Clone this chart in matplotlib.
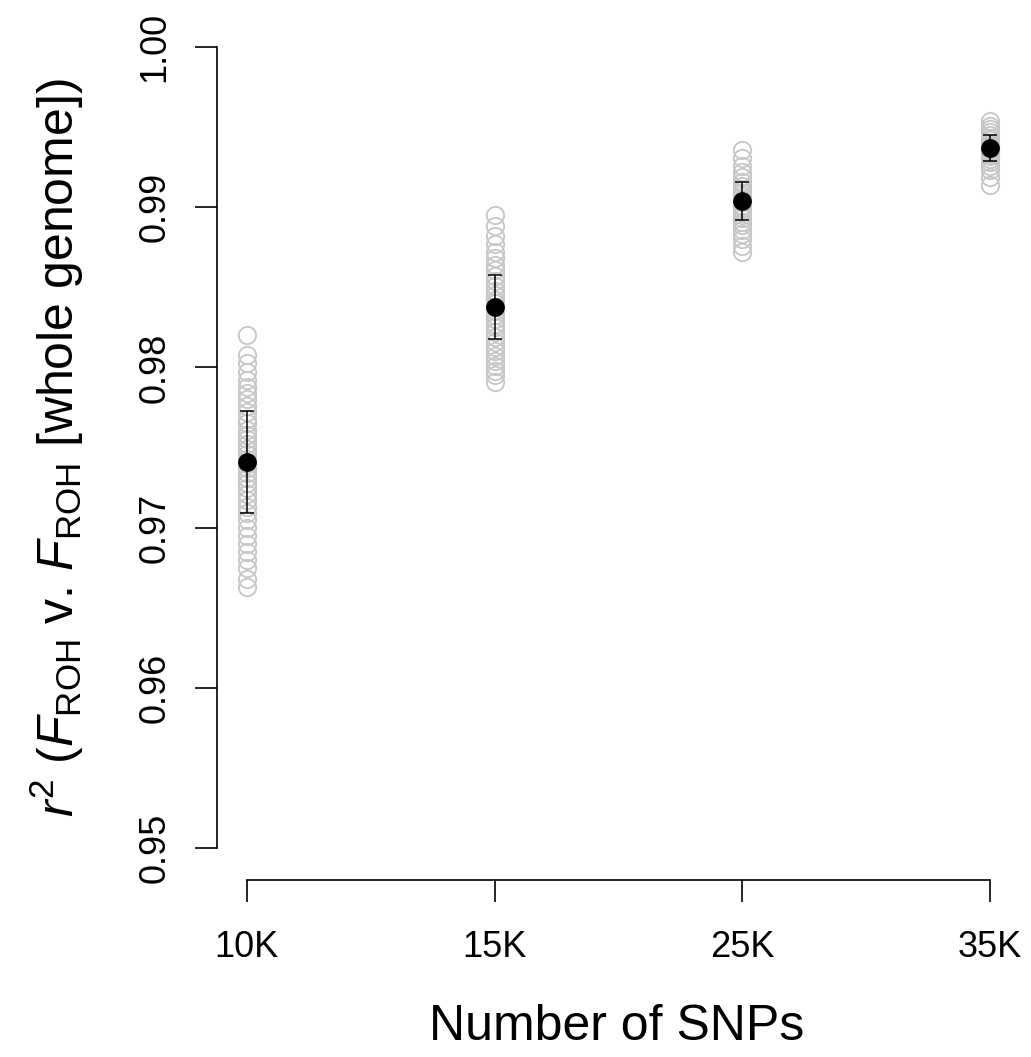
import matplotlib
matplotlib.use("Agg")
import matplotlib.pyplot as plt

plt.rcParams['font.family'] = ['Liberation Sans', 'DejaVu Sans']
plt.rcParams['mathtext.fontset'] = 'custom'
plt.rcParams['mathtext.rm'] = 'Liberation Sans'
plt.rcParams['mathtext.it'] = 'Liberation Sans:italic'

# SNP panel sizes
snp_labels = ["10K", "15K", "25K", "35K"]

# r^2 of each replicate subsample against the whole genome
r2_10k = [0.9820, 0.9808, 0.9803, 0.9797, 0.9792, 0.9788, 0.9784, 0.9780, 0.9776,
          0.9772, 0.9768, 0.9765, 0.9761, 0.9758, 0.9755, 0.9752, 0.9749, 0.9746,
          0.9743, 0.9740, 0.9737, 0.9734, 0.9731, 0.9728, 0.9725, 0.9721, 0.9717,
          0.9713, 0.9709, 0.9705, 0.9700, 0.9695, 0.9690, 0.9685, 0.9680, 0.9675,
          0.9668, 0.9663]
r2_15k = [0.9895, 0.9888, 0.9882, 0.9877, 0.9872, 0.9868, 0.9864, 0.9861, 0.9857,
          0.9854, 0.9851, 0.9848, 0.9845, 0.9842, 0.9840, 0.9838, 0.9835, 0.9833,
          0.9830, 0.9827, 0.9825, 0.9822, 0.9819, 0.9816, 0.9813, 0.9810, 0.9807,
          0.9804, 0.9801, 0.9798, 0.9795, 0.9791]
r2_25k = [0.9936, 0.9931, 0.9926, 0.9922, 0.9919, 0.9916, 0.9913, 0.9911, 0.9909,
          0.9907, 0.9905, 0.9903, 0.9901, 0.9899, 0.9897, 0.9895, 0.9893, 0.9891,
          0.9889, 0.9886, 0.9883, 0.9880, 0.9876, 0.9872]
r2_35k = [0.9954, 0.9951, 0.9949, 0.9947, 0.9945, 0.9943, 0.9942, 0.9940, 0.9939,
          0.9938, 0.9937, 0.9936, 0.9935, 0.9934, 0.9933, 0.9932, 0.9930, 0.9928,
          0.9926, 0.9923, 0.9919, 0.9914]

# Mean and standard deviation per panel size
r2_mean = [0.9741, 0.9838, 0.9904, 0.9937]
r2_sd = [0.0032, 0.0020, 0.0012, 0.0008]

replicates = [r2_10k, r2_15k, r2_25k, r2_35k]
positions = [1, 2, 3, 4]

fig = plt.figure(figsize=(10.31, 10.57), dpi=100)
ax = fig.add_axes([217 / 1031, 1 - 880 / 1057, (1020 - 217) / 1031, (880 - 15) / 1057])

for pos, vals in zip(positions, replicates):
    ax.plot([pos] * len(vals), vals, linestyle='none', marker='o', ms=12.5,
            mfc='none', mec='#c6c6c6', mew=1.3, zorder=2)

ax.errorbar(positions, r2_mean, yerr=r2_sd, fmt='o', color='black', ms=12.5,
            ecolor='black', elinewidth=1.1, capsize=5, capthick=1.1, zorder=3)

ax.set_xlim(0.88, 4.12)
ax.set_ylim(0.948, 1.002)

for side in ('top', 'right'):
    ax.spines[side].set_visible(False)
ax.spines['left'].set_bounds(0.95, 1.00)
ax.spines['bottom'].set_bounds(1, 4)
ax.spines['left'].set_linewidth(1.2)
ax.spines['bottom'].set_linewidth(1.2)

ax.set_xticks(positions)
ax.set_xticklabels(snp_labels)
yticks = [0.95, 0.96, 0.97, 0.98, 0.99, 1.00]
ax.set_yticks(yticks)
ax.set_yticklabels([f"{v:.2f}" for v in yticks], rotation=90, va='center')
ax.tick_params(axis='both', length=16, width=1.2, labelsize=26, color='black')
ax.tick_params(axis='x', pad=20)
ax.tick_params(axis='y', pad=16)

fig.text(617 / 1031, 1 - 1027 / 1057, "Number of SNPs", ha='center', va='center',
         fontsize=36)
fig.text(57 / 1031, 1 - 448 / 1057,
         r"$\it{r}^{2}$ ($\it{F}_{\rm ROH}$ v. $\it{F}_{\rm ROH}$ [whole genome])",
         ha='center', va='center', rotation=90, fontsize=36)

fig.savefig("out.png", dpi=100, facecolor='white')
